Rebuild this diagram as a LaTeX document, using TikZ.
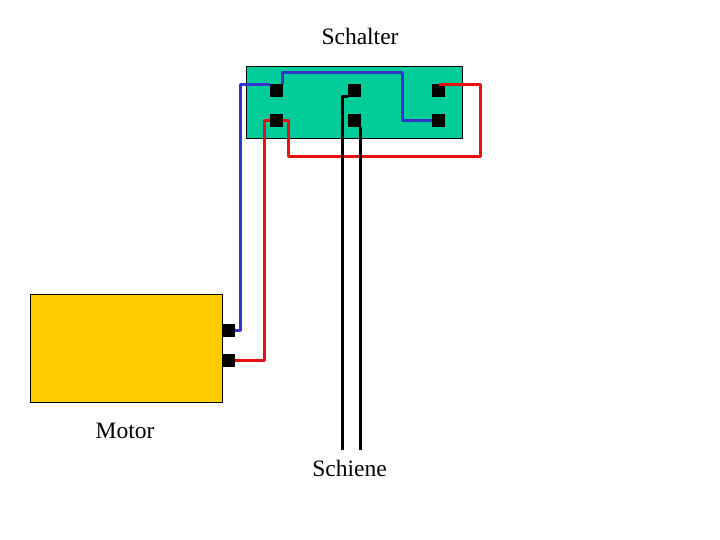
\documentclass[tikz,border=0pt]{standalone}
\usepackage{fontspec}
\setmainfont{Liberation Serif}
\definecolor{boxgreen}{HTML}{00CC99}
\definecolor{boxyellow}{HTML}{FFCC00}
\definecolor{wireblue}{HTML}{3333CC}
\definecolor{wirered}{HTML}{E81010}
\tikzset{
  panel/.style={draw=black,line width=1pt,minimum width=#1,inner sep=0pt,outer sep=0pt,anchor=north west},
  terminal/.style={fill=black,draw=none,minimum width=13pt,minimum height=13pt,inner sep=0pt,outer sep=0pt},
  wire/.style={line width=3.3pt,line join=round,line cap=butt},
  caption/.style={font=\fontsize{23.5pt}{26pt}\selectfont,inner sep=0pt,text=black}
}
\begin{document}
\begin{tikzpicture}[x=1pt,y=-1pt]
\useasboundingbox (0,0) rectangle (720,540);
\fill[white] (0,0) rectangle (720,540);
% panels
\node[panel=216pt,minimum height=72pt,fill=boxgreen] (schalter) at (246.5,66.5) {};
\node[panel=192pt,minimum height=108pt,fill=boxyellow] (motor) at (30.5,294.5) {};
% terminals
\node[terminal] (tl1) at (276.5,90.5) {};
\node[terminal] (tl2) at (276.5,120.5) {};
\node[terminal] (tm1) at (354.5,90.5) {};
\node[terminal] (tm2) at (354.5,120.5) {};
\node[terminal] (tr1) at (438.5,90.5) {};
\node[terminal] (tr2) at (438.5,120.5) {};
\node[terminal] (mt1) at (228.5,330.5) {};
\node[terminal] (mt2) at (228.5,360.5) {};
% bend points
\coordinate (b1) at (240.5,330.5);
\coordinate (b2) at (240.5,84.5);
\coordinate (b3) at (282.5,72.5);
\coordinate (b4) at (402.5,72.5);
\coordinate (b5) at (402.5,120.5);
\coordinate (r1) at (264.5,360.5);
\coordinate (r2) at (264.5,120.5);
\coordinate (r3) at (288.5,120.5);
\coordinate (r4) at (288.5,156.5);
\coordinate (r5) at (480.5,156.5);
\coordinate (r6) at (480.5,84.5);
\coordinate (k1) at (342.5,96.5);
\coordinate (k2) at (342.5,450);
\coordinate (k3) at (360.5,127);
\coordinate (k4) at (360.5,450);
% wires
\draw[wire,wireblue] (mt1.east) -- (b1) -- (b2) -- (tl1.west |- b2);
\draw[wire,wireblue] (b3 |- tl1.north) -- (b3) -- (b4) -- (b5) -- (tr2.west);
\draw[wire,wirered] (mt2.east) -- (r1) -- (r2) -- (tl2.west);
\draw[wire,wirered] (tl2.east) -- (r3) -- (r4) -- (r5) -- (r6) -- (tr1.center |- r6);
\draw[wire,black] (tm1.west |- k1) -- (k1) -- (k2);
\draw[wire,black] (k3) -- (k4);
% labels
\node[caption] (lab1) at (360,36.5) {Schalter};
\node[caption] (lab2) at (125,430.5) {Motor};
\node[caption] (lab3) at (349.5,468.5) {Schiene};
\end{tikzpicture}
\end{document}
